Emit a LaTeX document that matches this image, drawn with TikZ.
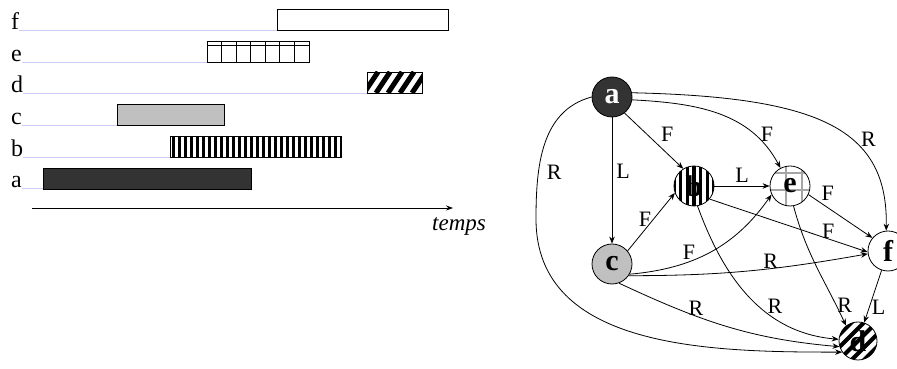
\documentclass[tikz,border=0pt]{standalone}
\usepackage{fontspec}
\setmainfont{Liberation Serif}
\usetikzlibrary{arrows.meta}
\definecolor{guideblue}{RGB}{204,204,245}
\definecolor{darkfill}{RGB}{51,51,51}
\definecolor{lightfill}{RGB}{192,192,192}
\definecolor{gridgray}{RGB}{165,165,165}

\begin{document}
\begin{tikzpicture}[x=1pt, y=1pt,
        tick/.style={anchor=base west, inner sep=0pt, font=\fontsize{24}{24}\selectfont},
        guide/.style={draw=guideblue, line width=0.8pt},
        bar/.style={draw=black, line width=0.8pt},
        task/.style={circle, draw=black, line width=0.8pt, minimum size=40pt, inner sep=0pt, font=\fontsize{30}{30}\selectfont\bfseries},
        rel/.style={-{Stealth[length=7pt, width=5.5pt]}, line width=0.8pt},
        lab/.style={inner sep=0pt, font=\fontsize{22}{22}\selectfont}]

    \useasboundingbox (0,0) rectangle (897,369);

    \foreach \lbl/\row/\start in {a/181/43, b/212/170, c/244/117, d/276/367, e/307/207, f/339/277} {
        \node[tick] (t\lbl) at (11,\row) {\lbl};
        \draw[guide] (t\lbl.base east) -- (\start,\row);
    }

    \draw[bar, fill=darkfill] (43,180) rectangle (251,201);

    \begin{scope}
        \clip (170,212) rectangle (341,233);
        \foreach \x in {172,178,...,340}
            \fill (\x,212) rectangle ++(3,21);
    \end{scope}
    \draw[bar] (170,212) rectangle (341,233);

    \draw[bar, fill=lightfill] (117,244) rectangle (224,265);

    \begin{scope}
        \clip (367,276) rectangle (422,297);
        \foreach \x in {352,364,...,424}
            \draw[line width=5pt] (\x,276) -- ++(14,21);
    \end{scope}
    \draw[bar] (367,276) rectangle (422,297);

    \draw[bar] (207,307) rectangle (309,328);
    \draw[bar] (207,324) -- (309,324);
    \foreach \k in {1,...,6}
        \draw[bar] (207+\k*14.57,307) -- ++(0,21);

    \draw[bar] (277,339) rectangle (448,360);

    \coordinate (t0) at (32,161);
    \coordinate (t1) at (453,161);
    \draw[-{Stealth[length=7pt, width=5pt]}, line width=0.8pt] (t0) -- (t1);
    \node[tick, font=\fontsize{23}{23}\selectfont\itshape] (temps) at (432,138) {temps};

    \node[task, fill=darkfill, text=white] (a) at (612,272) {a};
    \node[task, path picture={
            \foreach \k in {-3,...,3}
                \fill ([xshift=\k*6.6pt-1.6pt, yshift=-25pt]path picture bounding box.center) rectangle ++(3.2,50);
        }] (b) at (694,183) {b};
    \node[task, path picture={
            \draw[gridgray, line width=1.6pt]
                ([xshift=-4pt]path picture bounding box.north) -- ([xshift=-4pt]path picture bounding box.south)
                ([xshift=12pt]path picture bounding box.north) -- ([xshift=12pt]path picture bounding box.south)
                ([yshift=13pt]path picture bounding box.west) -- ([yshift=13pt]path picture bounding box.east)
                ([yshift=-4pt]path picture bounding box.west) -- ([yshift=-4pt]path picture bounding box.east);
        }] (e) at (790,183) {e};
    \node[task, fill=lightfill] (c) at (612,105) {c};
    \node[task] (f) at (888,118) {f};
    \node[task, minimum size=38pt, path picture={
            \foreach \k in {-4,...,4}
                \draw[line width=4pt] ([shift={(\k*12.5-25,-25)}]path picture bounding box.center) -- ++(50,50);
        }] (d) at (858,28) {d};

    \draw[rel] (a) -- node[lab, pos=.43, right=4pt] {L} (c);
    \draw[rel] (a.-52) -- node[lab, pos=.38, right=14pt] {F} (b.122);
    \draw[rel] (a.-8) to[out=-3, in=118] node[lab, pos=.75, right=7pt] {F} (e.118);
    \draw[rel] (a.12) .. controls (820,272) and (888,240) .. node[lab, pos=.6, right=9pt] {R} (f.95);
    \draw[rel] (a.180) to[out=195, in=90] node[lab, pos=.7, right=8pt] {R} (536,150) to[out=-90, in=180] (d.215);
    \draw[rel] (b) -- node[lab, above=3pt] {L} (e);
    \draw[rel] (c.40) -- node[lab, pos=.55, left=2pt] {F} (b.200);
    \draw[rel] (c.-30) to[out=5, in=235] node[lab, pos=.35, above=2pt] {F} (e.205);
    \draw[rel] (c.-35) to[out=0, in=190] node[lab, pos=.6, above] {R} (f.188);
    \draw[rel] (c.-70) to[out=-25, in=175] node[lab, pos=.35, above] {R} (d.197);
    \draw[rel] (b.-40) -- node[lab, pos=.75, above] {F} (f.183);
    \draw[rel] (b.-80) to[out=-70, in=175] node[lab, pos=.57, right=8pt] {R} (d.175);
    \draw[rel] (e.-25) -- node[lab, pos=.3, above=7pt] {F} (f.140);
    \draw[rel] (e.-80) to[out=-75, in=115] node[lab, pos=.84, right=1pt] {R} (d.128);
    \draw[rel] (f) -- node[lab, pos=.7, right=2pt] {L} (d);
\end{tikzpicture}
\end{document}
